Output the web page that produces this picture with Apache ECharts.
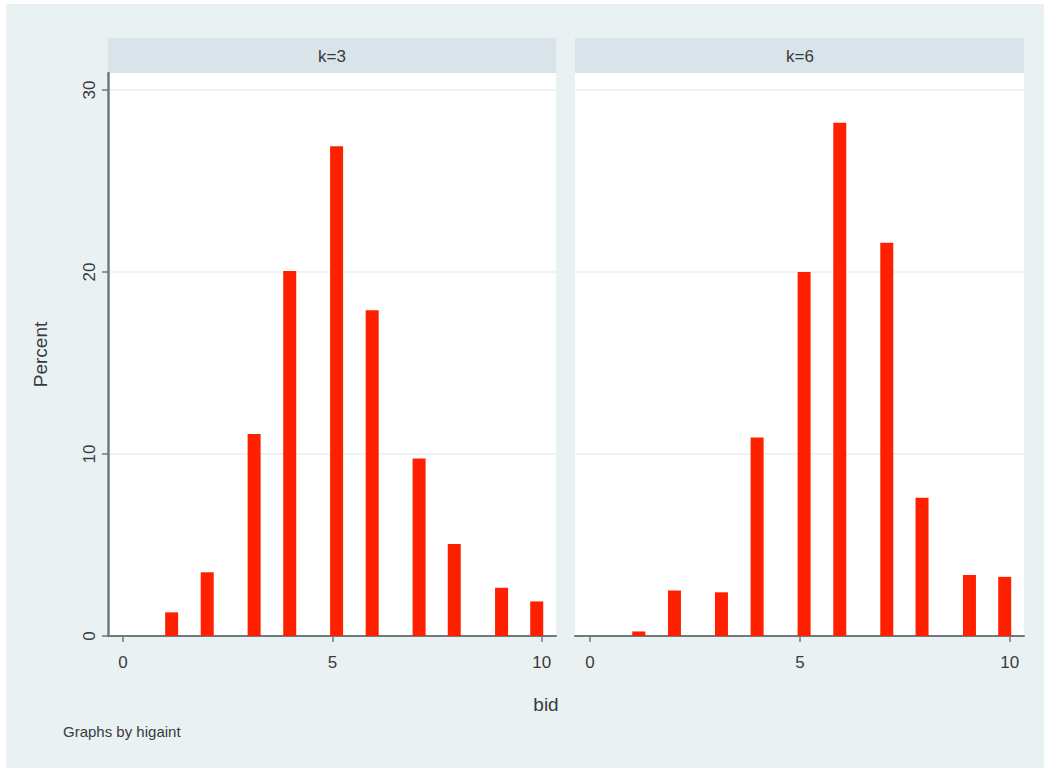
<!DOCTYPE html>
<html>
<head>
<meta charset="utf-8">
<script src="https://cdn.jsdelivr.net/npm/echarts@6/dist/echarts.min.js"></script>
<style>
  html, body { margin: 0; padding: 0; background: #fff; }
  #chart { width: 1050px; height: 772px; }
</style>
</head>
<body>
<div id="chart"></div>
<script>
// bin centres (bid) and percent per bin, one array per panel
var bidBins = [1.16, 2.01, 3.13, 3.98, 5.1, 5.95, 7.07, 7.91, 9.04, 9.88]
var pctK3 = [1.3, 3.5, 11.1, 20.05, 26.9, 17.9, 9.75, 5.05, 2.65, 1.9]
var pctK6 = [0.25, 2.5, 2.4, 10.9, 20.0, 28.2, 21.6, 7.6, 3.35, 3.25]
var panelNames = ['k=3', 'k=6']
var xTicks = [0, 5, 10]
var yTicks = [0, 10, 20, 30]

var font = "'Liberation Sans', Arial, sans-serif"
var txt = '#3a3a3a'
var axisCol = '#6f797e'
var barCol = '#ff2000'

function pairs(vals) {
  return bidBins.map(function(b, i) { return [b, vals[i]] })
}

var chart = echarts.init(document.getElementById('chart'), null, { renderer: 'svg' })

function xAxisFor(idx) {
  return {
    gridIndex: idx,
    type: 'value',
    min: -0.36,
    max: 10.34,
    axisLine: { show: true, onZero: false, lineStyle: { color: axisCol, width: 2 } },
    axisTick: { show: true, length: 6, customValues: xTicks, lineStyle: { color: axisCol, width: 1.5 } },
    axisLabel: { customValues: xTicks, margin: 18, fontSize: 17, color: txt, fontFamily: font },
    splitLine: { show: false }
  }
}

function yAxisFor(idx, showAxis) {
  return {
    gridIndex: idx,
    type: 'value',
    position: 'left',
    min: 0,
    max: 30.93,
    name: showAxis ? 'Percent' : '',
    nameLocation: 'middle',
    nameRotate: 90,
    nameGap: 58,
    nameTextStyle: { fontSize: 19, color: txt, fontFamily: font },
    axisLine: { show: showAxis, onZero: false, lineStyle: { color: axisCol, width: 2.5 } },
    axisTick: { show: showAxis, length: 6, customValues: yTicks, lineStyle: { color: axisCol, width: 1.5 } },
    axisLabel: { show: showAxis, customValues: yTicks, rotate: 90, margin: 10, fontSize: 17, color: txt, fontFamily: font },
    splitLine: { show: true, lineStyle: { color: '#eef3f5', width: 2 } }
  }
}

chart.setOption({
  backgroundColor: '#fff',
  animation: false,
  graphic: [
    { type: 'rect', z: -10, shape: { x: 6, y: 4, width: 1038, height: 764 }, style: { fill: '#eaf1f3' } },
    { type: 'rect', shape: { x: 108, y: 38, width: 448, height: 35 }, style: { fill: '#d9e4ea' } },
    { type: 'rect', shape: { x: 575, y: 38, width: 449, height: 35 }, style: { fill: '#d9e4ea' } },
    { type: 'text', x: 332, y: 56, style: { text: panelNames[0], fill: txt, font: '17px ' + font, textAlign: 'center', textVerticalAlign: 'middle' } },
    { type: 'text', x: 800, y: 56, style: { text: panelNames[1], fill: txt, font: '17px ' + font, textAlign: 'center', textVerticalAlign: 'middle' } },
    { type: 'text', x: 546, y: 704, style: { text: 'bid', fill: txt, font: '19px ' + font, textAlign: 'center', textVerticalAlign: 'middle' } },
    { type: 'text', x: 63, y: 731, style: { text: 'Graphs by higaint', fill: txt, font: '15px ' + font, textAlign: 'left', textVerticalAlign: 'middle' } }
  ],
  grid: [
    { left: 108, top: 73, width: 448, height: 563, show: true, backgroundColor: '#fff', borderWidth: 0 },
    { left: 575, top: 73, width: 449, height: 563, show: true, backgroundColor: '#fff', borderWidth: 0 }
  ],
  xAxis: [xAxisFor(0), xAxisFor(1)],
  yAxis: [yAxisFor(0, true), yAxisFor(1, false)],
  series: [
    {
      name: panelNames[0],
      type: 'bar',
      xAxisIndex: 0,
      yAxisIndex: 0,
      barWidth: 13,
      itemStyle: { color: barCol },
      data: pairs(pctK3)
    },
    {
      name: panelNames[1],
      type: 'bar',
      xAxisIndex: 1,
      yAxisIndex: 1,
      barWidth: 13,
      itemStyle: { color: barCol },
      data: pairs(pctK6)
    }
  ]
})
</script>
</body>
</html>
